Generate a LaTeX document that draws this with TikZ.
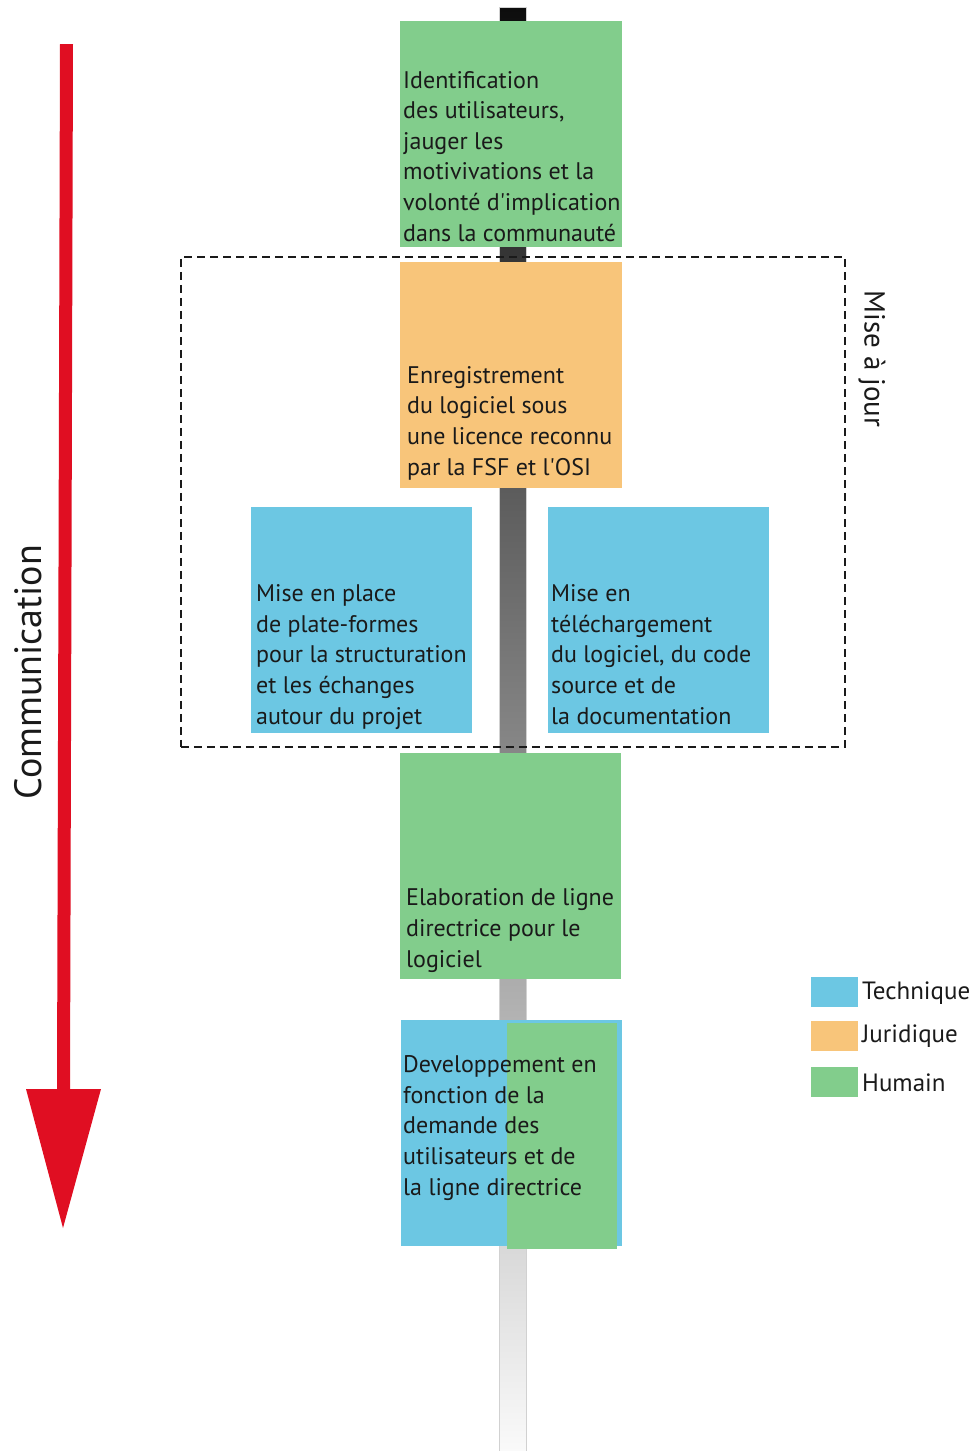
\documentclass[tikz,border=0pt]{standalone}
\usepackage{fontspec}
\setmainfont{PT Sans}
\definecolor{humain}{RGB}{130,205,140}
\definecolor{juridique}{RGB}{248,197,122}
\definecolor{technique}{RGB}{108,199,227}
\definecolor{flowred}{RGB}{224,14,34}
\definecolor{ink}{RGB}{26,26,26}
\newcommand{\apos}{\textquotesingle}
\begin{document}
\begin{tikzpicture}[x=1pt,y=-1pt,
  box/.style={anchor=north west,inner sep=0pt,outer sep=0pt,minimum width=222pt,minimum height=226pt,draw=none},
  txt/.style={anchor=base west,inner sep=0pt,align=left,text=ink,font=\fontsize{24}{30.6}\selectfont},
  legsq/.style={anchor=north west,inner sep=0pt,minimum width=47pt,minimum height=30pt},
  legtxt/.style={anchor=west,inner sep=0pt,text=ink,font=\fontsize{25}{30}\selectfont},
  bigtxt/.style={inner sep=0pt,text=ink}]
\useasboundingbox (0,0) rectangle (977,1451);

% central spine, dark at the top and fading out at the bottom
\coordinate (spinetop) at (499,7);
\coordinate (spinebot) at (526,1451);
\shade[top color=black!95,bottom color=black!2,draw=black!18,line width=0.8pt] (spinetop) rectangle (spinebot);

% red communication arrow
\coordinate (arrowtopL) at (60,44);
\coordinate (arrowtopR) at (73,44);
\coordinate (arrowneckR) at (70,1089);
\coordinate (arrowneckL) at (57,1089);
\coordinate (headL) at (26,1089);
\coordinate (headR) at (101,1089);
\coordinate (headtip) at (63,1228);
\fill[flowred] (arrowtopL) -- (arrowtopR) -- (arrowneckR) -- (headR) -- (headtip) -- (headL) -- (arrowneckL) -- cycle;
\node[bigtxt,rotate=90,font=\fontsize{38}{40}\selectfont] (comm) at (28,672) {Communication};

% update group
\node[draw=ink,line width=1.8pt,dash pattern=on 8pt off 5pt,anchor=north west,inner sep=0pt,minimum width=664pt,minimum height=490pt] (maj) at (180,256) {};
\node[bigtxt,rotate=-90,font=\fontsize{29}{30}\selectfont] (majlbl) at (872,359) {Mise à jour};

% steps (text nodes anchored on the baseline of their last line)
\node[box,fill=humain] (b1) at (400,21) {};
\node[txt] (t1) at (403,241) {Identification\\des utilisateurs,\\jauger les\\motivivations et la\\volonté d\apos implication\\dans la communauté};

\node[box,fill=juridique] (b2) at (400,262) {};
\node[txt] (t2) at (407,475) {Enregistrement\\du logiciel sous\\une licence reconnu\\par la FSF et l\apos OSI};

\node[box,fill=technique,minimum width=221pt] (b3) at (251,507) {};
\node[txt] (t3) at (256,724) {Mise en place\\de plate-formes\\pour la structuration\\et les échanges\\autour du projet};

\node[box,fill=technique,minimum width=221pt] (b4) at (548,507) {};
\node[txt] (t4) at (551,724) {Mise en\\téléchargement\\du logiciel, du code\\source et de\\la documentation};

\node[box,fill=humain,minimum width=221pt] (b5) at (400,753) {};
\node[txt] (t5) at (406,967) {Elaboration de ligne\\directrice pour le\\logiciel};

\node[box,fill=technique,minimum width=221pt] (b6) at (401,1020) {};
\node[box,fill=humain,minimum width=110pt] (b6h) at (507,1023) {};
\node[txt] (t6) at (403,1195) {Developpement en\\fonction de la\\demande des\\utilisateurs et de\\la ligne directrice};

% legend
\node[legsq,fill=technique] (l1) at (811,977) {};
\node[legtxt] (lt1) at (862,993) {Technique};
\node[legsq,fill=juridique] (l2) at (811,1021) {};
\node[legtxt] (lt2) at (862,1036) {Juridique};
\node[legsq,fill=humain] (l3) at (811,1067) {};
\node[legtxt] (lt3) at (862,1083) {Humain};
\end{tikzpicture}
\end{document}
